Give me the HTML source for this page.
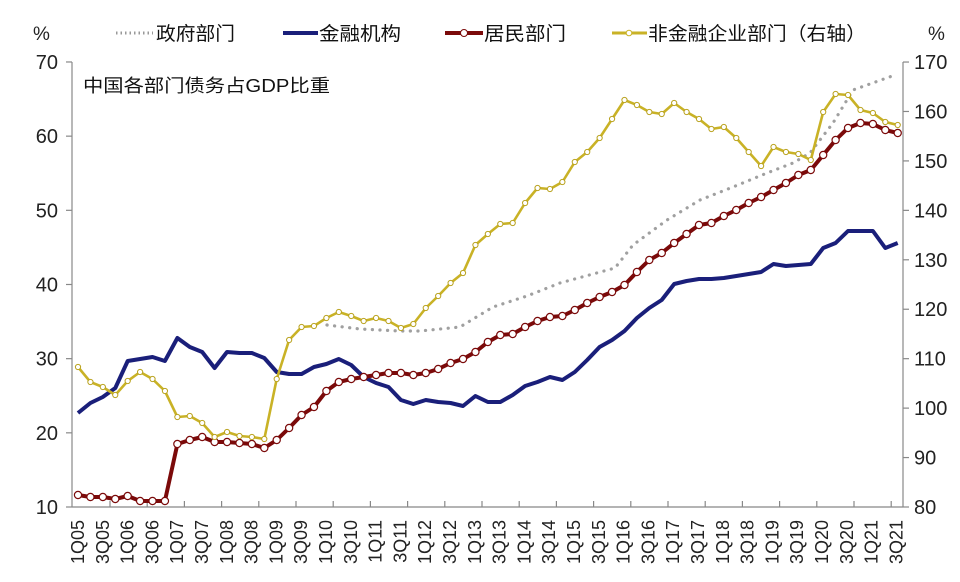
<!DOCTYPE html>
<html><head><meta charset="utf-8"><style>
body{margin:0;background:#fff;}
svg{display:block;font-family:"Liberation Sans","Noto Sans CJK SC",sans-serif;}
</style></head><body>
<svg id="c" width="960" height="582" xmlns="http://www.w3.org/2000/svg">
<rect width="960" height="582" fill="#fff"/>
<g font-size="19" fill="#222">
<text x="33" y="40">%</text>
<text x="928" y="40">%</text>
</g>
<g font-size="19" fill="#111" font-family="'Liberation Sans','Noto Sans CJK SC',sans-serif">
<line x1="116" y1="33" x2="153" y2="33" stroke="#999" stroke-width="3" stroke-dasharray="1.5,3"/>
<text x="156" y="40" textLength="79" lengthAdjust="spacingAndGlyphs">政府部门</text>
<line x1="283" y1="33" x2="318" y2="33" stroke="#1a1f7a" stroke-width="4"/>
<text x="319" y="40" textLength="82" lengthAdjust="spacingAndGlyphs">金融机构</text>
<line x1="445" y1="33" x2="483" y2="33" stroke="#7b0a0a" stroke-width="4"/>
<circle cx="464" cy="33" r="3.5" fill="#fff" stroke="#7b0a0a"/>
<text x="484" y="40" textLength="82" lengthAdjust="spacingAndGlyphs">居民部门</text>
<line x1="612" y1="33" x2="647" y2="33" stroke="#c9b226" stroke-width="3"/>
<circle cx="629" cy="33" r="2.8" fill="#fff" stroke="#c9b226"/>
<text x="648" y="40" textLength="218" lengthAdjust="spacingAndGlyphs">非金融企业部门（右轴）</text>
</g>
<text x="83" y="92" font-size="18" fill="#111" textLength="247" lengthAdjust="spacingAndGlyphs">中国各部门债务占GDP比重</text>
<g id="axes" stroke="#888" stroke-width="1.2"></g>
<g id="lbl" font-size="20" fill="#222"></g>
<g id="series"></g>
</svg>
<script>
var ns="http://www.w3.org/2000/svg";
function el(p,t,a,txt){var e=document.createElementNS(ns,t);for(var k in a)e.setAttribute(k,a[k]);if(txt!==undefined)e.textContent=txt;p.appendChild(e);return e;}
var ax=document.getElementById('axes'),lb=document.getElementById('lbl'),se=document.getElementById('series');
el(ax,'line',{x1:72,y1:62,x2:72,y2:507});
el(ax,'line',{x1:903,y1:62,x2:903,y2:507});
el(ax,'line',{x1:72,y1:507,x2:903,y2:507});
for(var i=0;i<7;i++){var y=507-i*74.17;el(ax,'line',{x1:66,y1:y,x2:72,y2:y});
 el(lb,'text',{x:58,y:y+7,'text-anchor':'end'},String(10+i*10));}
for(var i=0;i<10;i++){var y=507-i*49.44;el(ax,'line',{x1:903,y1:y,x2:909,y2:y});
 el(lb,'text',{x:914,y:y+7},String(80+i*10));}
for(var k=0;k<22;k++){var x=110+37.2*k;if(x>903)break;el(ax,'line',{x1:x,y1:501,x2:x,y2:507});}
for(var k=0;k<34;k++){var x=78+24.8*k;var yr=5+Math.floor(k/2);var q=(k%2)?'3Q':'1Q';
 var s=q+(yr<10?'0':'')+yr;
 el(lb,'text',{x:0,y:0,'font-size':18,'text-anchor':'end',transform:'translate('+(x+6)+',520) rotate(-90)'},s);}
function X(i){return 78+i*12.42;}
var blue=[413,403,397,388,361,359,357,361,338,347,352,368,352,353,353,358,372,374,374,367,364,359,365,377,383,387,400,404,400,402,403,406,396,402,402,395,386,382,377,380,372,360,347,340,331,318,308,300,284,281,279,279,278,276,274,272,264,266,265,264,248,243,231,231,231,248,243];
var red=[495,497,497,499,496,501,501,501,444,440,437,442,442,443,444,448,440,428,415,407,391,382,379,377,375,373,373,375,373,369,363,359,352,342,335,334,327,321,317,316,310,303,297,292,285,272,260,253,243,234,225,223,216,210,203,197,190,183,175,170,155,140,128,123,124,130,133];
var yel=[367,382,387,395,381,372,379,391,417,416,423,437,432,436,437,439,379,340,327,326,318,312,316,321,318,321,328,324,308,296,283,273,245,234,224,223,203,188,189,182,162,152,138,119,100,105,112,114,103,112,119,129,127,138,152,166,147,152,154,160,112,94,95,110,113,122,125];
function pts(a){return a.map(function(v,i){return X(i).toFixed(1)+','+v;}).join(' ');}
var gov=[[327,325],[360,329],[400,331],[420,331],[460,327],[493,307],[527,296],[560,283],[593,274],[615,268],[633,245],[667,220],[700,200],[733,187],[767,173],[793,163],[810,153],[833,123],[853,90],[867,85],[895,75]];
el(se,'polyline',{points:gov.map(function(p){return p.join(',')}).join(' '),fill:'none',stroke:'#a0a0a0','stroke-width':3.2,'stroke-dasharray':'0.1,7.5','stroke-linecap':'round'});
el(se,'polyline',{points:pts(blue),fill:'none',stroke:'#1a1f7a','stroke-width':4,'stroke-linejoin':'round'});
el(se,'polyline',{points:pts(red),fill:'none',stroke:'#7b0a0a','stroke-width':4,'stroke-linejoin':'round'});
red.forEach(function(v,i){el(se,'circle',{cx:X(i),cy:v,r:3.6,fill:'#fff',stroke:'#7b0a0a','stroke-width':1.2});});
el(se,'polyline',{points:pts(yel),fill:'none',stroke:'#c9b226','stroke-width':2.6,'stroke-linejoin':'round'});
yel.forEach(function(v,i){el(se,'circle',{cx:X(i),cy:v,r:2.6,fill:'#fff',stroke:'#b9a21e','stroke-width':1});});
</script>
</body></html>
